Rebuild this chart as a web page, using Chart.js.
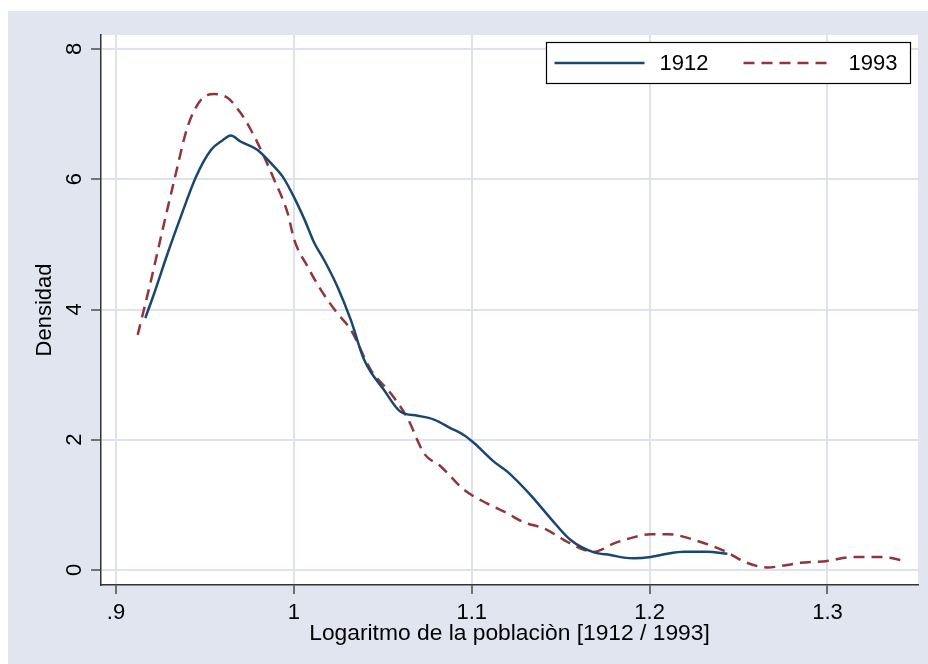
<!DOCTYPE html>
<html><head><meta charset="utf-8">
<script src="https://cdn.jsdelivr.net/npm/chart.js@4/dist/chart.umd.min.js"></script>
<style>html,body{margin:0;padding:0;background:#fff}#wrap{width:928px;height:664px;position:relative}</style>
</head><body><div id="wrap"><canvas id="c" width="928" height="664"></canvas></div>
<script>
const seriesNames = ['1912', '1993'];
const x1912 = [0.9165,0.9215,0.929,0.9365,0.945,0.9534,0.9600,0.9646,0.970,0.9796,0.987,0.9937,1.0,1.006,1.0115,1.017,1.0245,1.032,1.0395,1.0508,1.060,1.0695,1.0788,1.088,1.0957,1.1013,1.1126,1.12,1.1331,1.1444,1.1556,1.1687,1.178,1.1856,1.1912,1.2006,1.2100,1.2193,1.2324,1.2437];
const y1912 = [3.87,4.25,4.86,5.43,6.04,6.45,6.60,6.67,6.58,6.45,6.25,6.04,5.73,5.38,5.02,4.76,4.35,3.84,3.23,2.76,2.43,2.37,2.31,2.18,2.07,1.95,1.66,1.51,1.15,0.79,0.46,0.27,0.23,0.19,0.18,0.20,0.25,0.28,0.28,0.25];
const x1993 = [0.9122,0.9197,0.9271,0.9328,0.9403,0.9478,0.9552,0.9627,0.970,0.9758,0.9815,0.989,0.9965,1.0002,1.0077,1.0152,1.0245,1.032,1.0433,1.0545,1.0639,1.0732,1.0826,1.0957,1.1088,1.12,1.1294,1.1406,1.1519,1.1612,1.1687,1.18,1.1893,1.2006,1.2099,1.2287,1.2437,1.253,1.2661,1.2848,1.2998,1.3148,1.3298,1.3438];
const y1993 = [3.61,4.45,5.33,5.99,6.81,7.22,7.31,7.25,7.02,6.76,6.45,5.99,5.48,5.07,4.66,4.30,3.94,3.69,3.07,2.71,2.33,1.79,1.59,1.23,1.02,0.87,0.73,0.64,0.46,0.33,0.28,0.41,0.49,0.55,0.55,0.43,0.27,0.13,0.04,0.11,0.14,0.20,0.20,0.14];
const xTickValues = [0.9, 1, 1.1, 1.2, 1.3];
const xTickLabels = ['.9', '1', '1.1', '1.2', '1.3'];
const yTickValues = [0, 2, 4, 6, 8];
const yTickLabels = ['0', '2', '4', '6', '8'];
const xTitle = 'Logaritmo de la poblaciòn [1912 / 1993]';
const yTitle = 'Densidad';

const FONT = '"Liberation Sans", Arial, sans-serif';
const BG = '#e1e5f0';
const GRID = '#dde2ee';
const AXIS = '#333333';
const colors = ['#1a476f', '#90353b'];
const dashes = [[], [11, 7]];

const toPts = (xs, ys) => xs.map((x, i) => ({x: x, y: ys[i]}));

const bgPlugin = {
  id: 'bg',
  beforeDraw(chart) {
    const ctx = chart.ctx, ca = chart.chartArea;
    ctx.save();
    ctx.fillStyle = '#ffffff';
    ctx.fillRect(0, 0, chart.width, chart.height);
    ctx.fillStyle = BG;
    ctx.fillRect(8, 11, chart.width - 8, chart.height - 11);
    ctx.fillStyle = '#ffffff';
    ctx.fillRect(ca.left, ca.top, ca.right - ca.left, ca.bottom - ca.top);
    ctx.restore();
  }
};

const legendPlugin = {
  id: 'boxLegend',
  afterDraw(chart) {
    const ctx = chart.ctx, ca = chart.chartArea;
    const bx = ca.right - 371.5, by = ca.top + 7.5, bw = 364, bh = 41;
    ctx.save();
    ctx.fillStyle = '#ffffff';
    ctx.fillRect(bx, by, bw, bh);
    ctx.strokeStyle = '#000000';
    ctx.lineWidth = 1.2;
    ctx.strokeRect(bx, by, bw, bh);
    const cy = by + bh / 2;
    const items = [[bx + 8, bx + 113], [bx + 197, bx + 302]];
    chart.data.datasets.forEach((ds, i) => {
      const [lx, tx] = items[i];
      ctx.beginPath();
      ctx.setLineDash(ds.borderDash || []);
      ctx.strokeStyle = ds.borderColor;
      ctx.lineWidth = ds.borderWidth;
      ctx.moveTo(lx, cy);
      ctx.lineTo(lx + 90, cy);
      ctx.stroke();
      ctx.setLineDash([]);
      ctx.fillStyle = '#000000';
      ctx.font = '22px ' + FONT;
      ctx.textBaseline = 'middle';
      ctx.textAlign = 'left';
      ctx.fillText(ds.label, tx, cy + 1);
    });
    ctx.restore();
  }
};

new Chart(document.getElementById('c'), {
  type: 'scatter',
  data: {
    datasets: [
      {label: seriesNames[0], data: toPts(x1912, y1912), showLine: true, borderColor: colors[0], borderWidth: 2.5, borderDash: dashes[0], pointRadius: 0, cubicInterpolationMode: 'monotone', fill: false},
      {label: seriesNames[1], data: toPts(x1993, y1993), showLine: true, borderColor: colors[1], borderWidth: 2.5, borderDash: dashes[1], pointRadius: 0, cubicInterpolationMode: 'monotone', fill: false}
    ]
  },
  options: {
    responsive: false,
    animation: false,
    devicePixelRatio: 1,
    layout: {padding: {left: 0, top: 35, right: 10, bottom: 17}},
    plugins: {legend: {display: false}, tooltip: {enabled: false}},
    scales: {
      x: {
        type: 'linear', min: 0.89157, max: 1.35088,
        afterBuildTicks(s) { s.ticks = xTickValues.map(v => ({value: v})); },
        afterFit(s) { s.height = 62; },
        ticks: {callback: (v, i) => xTickLabels[i], color: '#000', font: {family: FONT, size: 22}, padding: 6, maxRotation: 0, autoSkip: false},
        grid: {color: GRID, lineWidth: 2, tickColor: AXIS, tickLength: 9, tickWidth: 1.3},
        border: {display: true, color: AXIS, width: 1.5},
        title: {display: true, text: xTitle, color: '#000', font: {family: FONT, size: 22.8}, padding: {top: 0, bottom: 0}}
      },
      y: {
        type: 'linear', min: -0.2303, max: 8.215,
        afterBuildTicks(s) { s.ticks = yTickValues.map(v => ({value: v})); },
        afterFit(s) { s.width = 101; },
        ticks: {callback: (v, i) => yTickLabels[i], color: '#000', font: {family: FONT, size: 22}, padding: 10, minRotation: 90, maxRotation: 90, crossAlign: 'center', autoSkip: false},
        grid: {color: GRID, lineWidth: 2, tickColor: AXIS, tickLength: 10, tickWidth: 1.3},
        border: {display: true, color: AXIS, width: 1.5},
        title: {display: true, text: yTitle, color: '#000', font: {family: FONT, size: 22}, padding: {top: 32, bottom: 0}}
      }
    }
  },
  plugins: [bgPlugin, legendPlugin]
});
</script></body></html>
